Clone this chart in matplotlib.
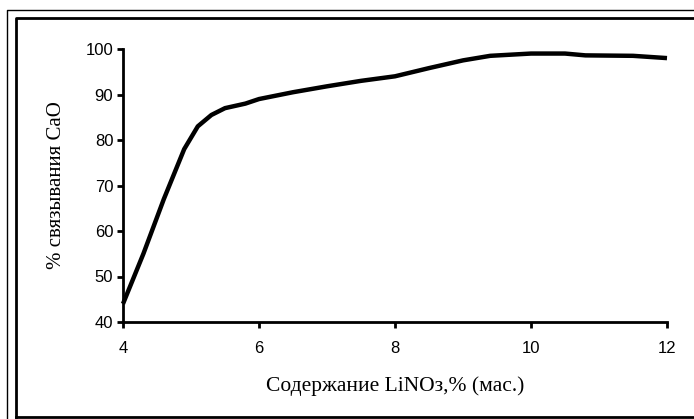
import matplotlib.pyplot as plt
from matplotlib.lines import Line2D

# LiNO3 content, % (mass) vs. % CaO binding
lino3 = [4.0, 4.3, 4.6, 4.9, 5.1, 5.3, 5.5, 5.8, 6.0, 6.5, 7.0, 7.5, 8.0,
         8.5, 9.0, 9.4, 10.0, 10.5, 10.8, 11.5, 12.0]
cao = [44.0, 55.0, 67.0, 78.0, 83.0, 85.5, 87.0, 88.0, 89.0, 90.5, 91.8,
       93.0, 94.0, 95.8, 97.5, 98.5, 99.0, 99.0, 98.6, 98.5, 98.0]
xticks = [4, 6, 8, 10, 12]
yticks = [40, 50, 60, 70, 80, 90, 100]

W, H = 694, 419
fig = plt.figure(figsize=(W / 100, H / 100), dpi=100)
ax = fig.add_axes([123 / W, 1 - 322 / H, (667 - 123) / W, (322 - 49) / H])

ax.plot(lino3, cao, color="black", lw=3.2, solid_capstyle="butt", clip_on=False)
ax.set_xlim(4, 12)
ax.set_ylim(40, 100)
ax.set_xticks(xticks)
ax.set_yticks(yticks)

for s in ("top", "right"):
    ax.spines[s].set_visible(False)
for s in ("left", "bottom"):
    ax.spines[s].set_linewidth(2)
ax.tick_params(direction="out", length=4, width=2, labelsize=12)
ax.tick_params(axis="y", pad=3)
ax.tick_params(axis="x", pad=10)
for lab in ax.get_xticklabels() + ax.get_yticklabels():
    lab.set_family("Liberation Sans")

ax.set_xlabel("Содержание LiNOз,% (мас.)", family="Liberation Serif",
              fontsize=15.5, labelpad=14)
ax.set_ylabel("% связывания CaO", family="Liberation Serif",
              fontsize=15, labelpad=14)

# double frame around the chart (cut off at the right and bottom)
def px(x, y):
    return x / W, 1 - y / H

for xs, ys, lw in [
    ((7, 7, W), (H, 10, 10), 1.0),
    ((16, 16, W), (417, 18, 18), 2.0),
    ((16, W), (417, 417), 2.0),
]:
    pts = [px(x, y) for x, y in zip(xs, ys)]
    fig.add_artist(Line2D([p[0] for p in pts], [p[1] for p in pts],
                          color="black", lw=lw, transform=fig.transFigure))

fig.savefig("out.png", dpi=100)
